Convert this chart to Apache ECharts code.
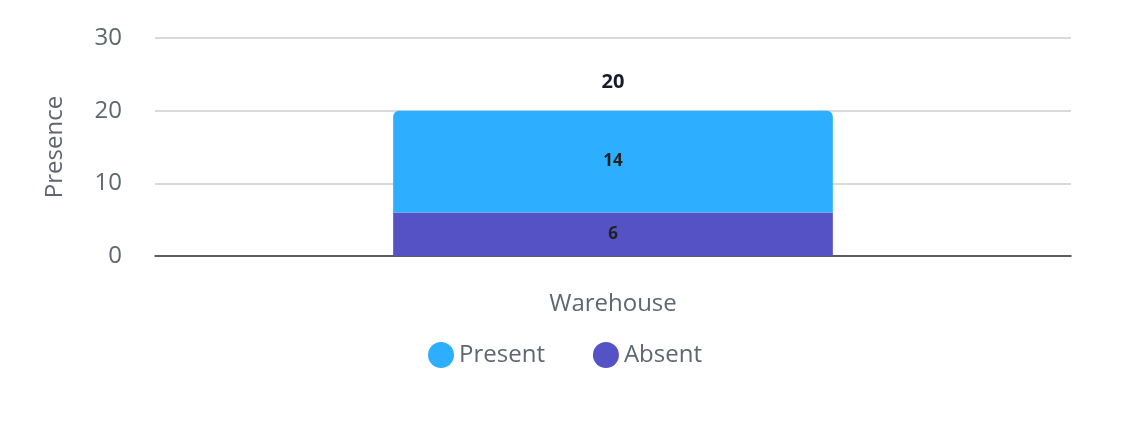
<!DOCTYPE html>
<html><head><meta charset="utf-8">
<script src="https://cdn.jsdelivr.net/npm/echarts@6/dist/echarts.min.js"></script>
<style>html,body{margin:0;padding:0;background:#fff}#c{width:1130px;height:423px}</style>
</head><body><div id="c"></div>
<script>
const categories = ['Warehouse'];
const absent = [6];
const present = [14];
const totals = categories.map((c,i)=>absent[i]+present[i]);
const yTicks = [0,10,20,30];
const font = 'Open Sans';
const chart = echarts.init(document.getElementById('c'));
chart.setOption({
  animation:false,
  textStyle:{fontFamily:font},
  grid:{left:155,right:59,top:38,bottom:167},
  legend:{data:['Present','Absent'],bottom:50,left:'center',icon:'circle',itemWidth:26,itemHeight:26,itemGap:48,
    textStyle:{fontSize:24,color:'#5f6670',fontFamily:font}},
  xAxis:{type:'category',data:categories,axisTick:{show:false},
    axisLine:{lineStyle:{color:'#333',width:1.5}},
    axisLabel:{fontSize:24,color:'#5f6670',margin:36}},
  yAxis:{type:'value',min:0,max:30,interval:10,name:'Presence',nameLocation:'middle',nameGap:88,
    nameTextStyle:{fontSize:24,color:'#5f6670'},
    axisLabel:{fontSize:24,color:'#5f6670',margin:33,align:'right'},
    splitLine:{lineStyle:{color:'#ccc',width:1.5}}},
  series:[
    {name:'Absent',type:'bar',stack:'s',data:absent,barWidth:'48%',itemStyle:{color:'#5552c6'},
      label:{show:true,position:'inside',fontSize:17,fontWeight:'bold',color:'#222'}},
    {name:'Present',type:'bar',stack:'s',data:present,itemStyle:{color:'#2daeff',borderRadius:[6,6,0,0]},
      label:{show:true,position:'inside',fontSize:17,fontWeight:'bold',color:'#222'}},
    {name:'Total',type:'bar',stack:'s',data:totals.map(()=>0),itemStyle:{color:'transparent'},
      label:{show:true,position:'top',distance:18,fontSize:20,fontWeight:'bold',color:'#1a1a2a',
        formatter:p=>totals[p.dataIndex]}}
  ]
});
</script></body></html>
